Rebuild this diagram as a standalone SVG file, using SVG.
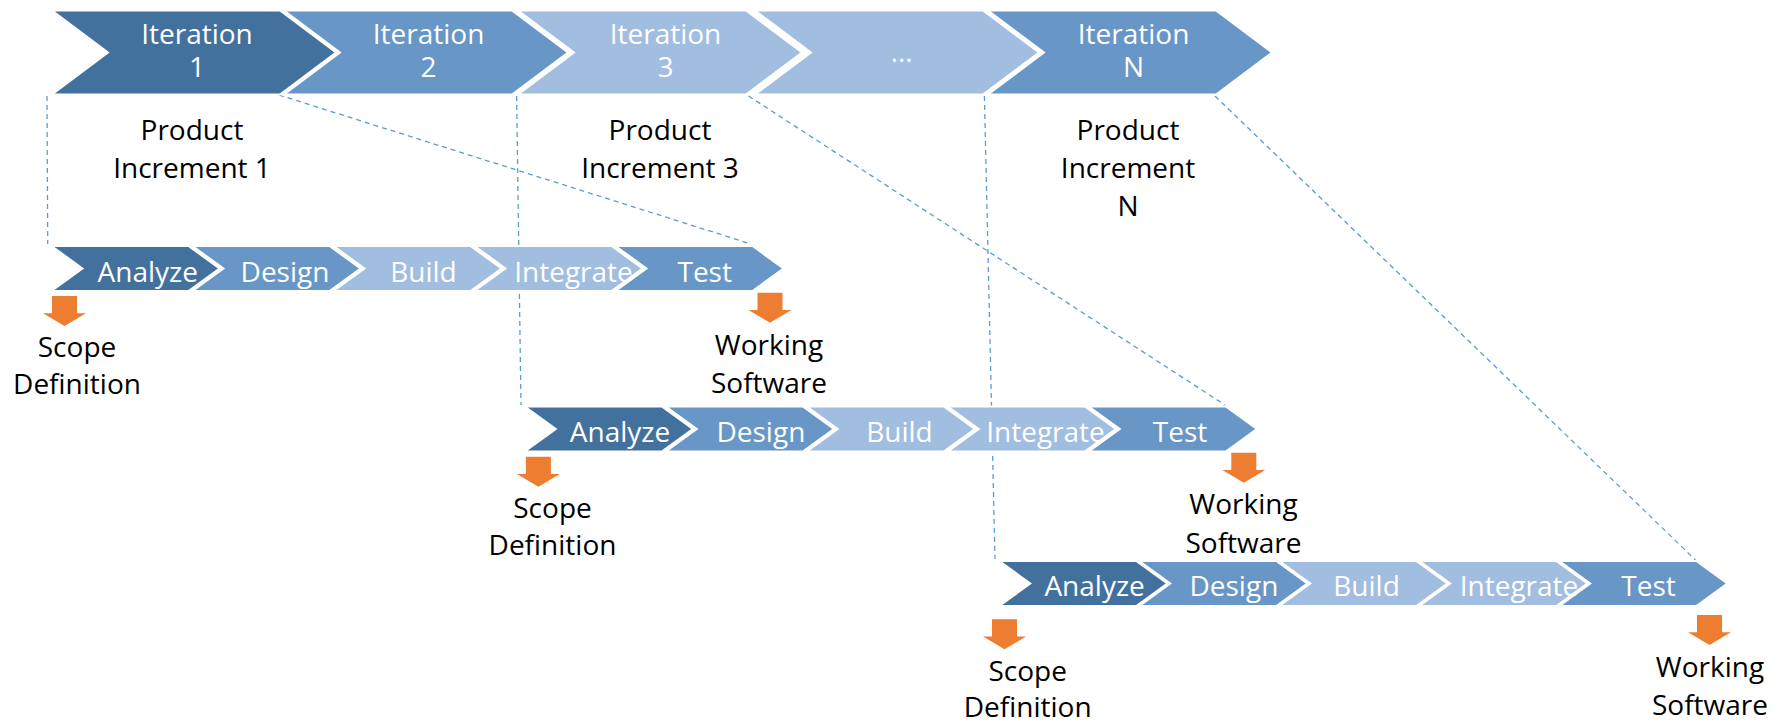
<svg xmlns="http://www.w3.org/2000/svg" width="1782" height="724" viewBox="0 0 1782 724">
<style>
.dk{fill:#42719E;stroke:#fff;stroke-width:2}
.md{fill:#6896C6;stroke:#fff;stroke-width:2}
.lt{fill:#A1BDE0;stroke:#fff;stroke-width:2}
.wt{font-family:"Open Sans","Liberation Sans",sans-serif;font-size:28px;fill:#fff;text-anchor:middle}
.bt{font-family:"Open Sans","Liberation Sans",sans-serif;font-size:28px;fill:#000;text-anchor:middle}
.dash{stroke:#5B9BD5;stroke-width:1.3;stroke-dasharray:5 4;fill:none}
.arr{fill:#ED7D31}
</style>
<defs>
<path id="big" d="M0,10.5 H228 L284,52.5 L228,94.5 H0 L56,52.5 Z"/>
<path id="sm" d="M0,0 H137 L168,22.5 L137,45 H0 L31,22.5 Z"/>
<path id="dn" d="M-12.5,0 H12.5 V17.3 H21.5 L0,30 L-21.5,17.3 H-12.5 Z"/>
</defs>
<rect width="1782" height="724" fill="#fff"/>
<g id="connectors">
<line class="dash" x1="47" y1="96" x2="47.7" y2="244"/>
<line class="dash" x1="279" y1="95" x2="751" y2="244"/>
<line class="dash" x1="516.6" y1="96" x2="521" y2="405"/>
<line class="dash" x1="748.5" y1="96" x2="1225" y2="405"/>
<line class="dash" x1="984.4" y1="96" x2="995" y2="559"/>
<line class="dash" x1="1215" y1="96" x2="1695.5" y2="560"/>
</g>
<g id="iter1"><use href="#big" class="dk" x="52"/><text class="wt" x="197" y="44">Iteration</text><text class="wt" x="197" y="77">1</text></g>
<g id="iter2"><use href="#big" class="md" x="284"/><text class="wt" x="428.6" y="44">Iteration</text><text class="wt" x="428.6" y="77">2</text></g>
<g id="iter3"><use href="#big" class="lt" x="518"/><text class="wt" x="665.5" y="44">Iteration</text><text class="wt" x="665.5" y="77">3</text></g>
<g id="iterdots"><use href="#big" class="lt" x="755"/><text class="wt" x="901.6" y="62">…</text></g>
<g id="iterN"><use href="#big" class="md" x="988"/><text class="wt" x="1133.6" y="44">Iteration</text><text class="wt" x="1133.6" y="77">N</text></g>
<g id="pi1"><text class="bt" x="192" y="140">Product</text><text class="bt" x="192" y="178">Increment 1</text></g>
<g id="pi3"><text class="bt" x="660" y="140">Product</text><text class="bt" x="660" y="178">Increment 3</text></g>
<g id="piN"><text class="bt" x="1128" y="140">Product</text><text class="bt" x="1128" y="178">Increment</text><text class="bt" x="1128" y="216">N</text></g>
<g id="row1">
<use href="#sm" class="dk" x="51.5" y="246"/>
<use href="#sm" class="md" x="192.5" y="246"/>
<use href="#sm" class="lt" x="333.5" y="246"/>
<use href="#sm" class="lt" x="474.5" y="246"/>
<use href="#sm" class="md" x="615.5" y="246"/>
<text class="wt" x="147.7" y="282">Analyze</text>
<text class="wt" x="285" y="282">Design</text>
<text class="wt" x="423.4" y="282">Build</text>
<text class="wt" x="573.5" y="282">Integrate</text>
<text class="wt" x="704.7" y="282">Test</text>
</g>
<g id="row2">
<use href="#sm" class="dk" x="524.8" y="406.5"/>
<use href="#sm" class="md" x="665.8" y="406.5"/>
<use href="#sm" class="lt" x="806.8" y="406.5"/>
<use href="#sm" class="lt" x="947.8" y="406.5"/>
<use href="#sm" class="md" x="1088.8" y="406.5"/>
<text class="wt" x="620" y="442.3">Analyze</text>
<text class="wt" x="760.9" y="442.3">Design</text>
<text class="wt" x="899.4" y="442.3">Build</text>
<text class="wt" x="1045.5" y="442.3">Integrate</text>
<text class="wt" x="1180" y="442.3">Test</text>
</g>
<g id="row3">
<use href="#sm" class="dk" x="999.3" y="561"/>
<use href="#sm" class="md" x="1139.3" y="561"/>
<use href="#sm" class="lt" x="1279.3" y="561"/>
<use href="#sm" class="lt" x="1419.3" y="561"/>
<use href="#sm" class="md" x="1559.3" y="561"/>
<text class="wt" x="1094.6" y="596">Analyze</text>
<text class="wt" x="1233.9" y="596">Design</text>
<text class="wt" x="1366.5" y="596">Build</text>
<text class="wt" x="1519" y="596">Integrate</text>
<text class="wt" x="1648.6" y="596">Test</text>
</g>
<g id="scope1"><use href="#dn" class="arr" x="64.5" y="296"/><text class="bt" x="77" y="356.7">Scope</text><text class="bt" x="77" y="394">Definition</text></g>
<g id="work1"><use href="#dn" class="arr" x="770" y="292.7"/><text class="bt" x="769" y="354.5">Working</text><text class="bt" x="769" y="392.5">Software</text></g>
<g id="scope2"><use href="#dn" class="arr" x="538.4" y="456.7"/><text class="bt" x="552.5" y="517.7">Scope</text><text class="bt" x="552.5" y="555">Definition</text></g>
<g id="work2"><use href="#dn" class="arr" x="1243.8" y="452.7"/><text class="bt" x="1243.5" y="513.5">Working</text><text class="bt" x="1243.5" y="552.5">Software</text></g>
<g id="scope3"><use href="#dn" class="arr" x="1004.5" y="619.3"/><text class="bt" x="1027.7" y="680.7">Scope</text><text class="bt" x="1027.7" y="716.7">Definition</text></g>
<g id="work3"><use href="#dn" class="arr" x="1709.5" y="615"/><text class="bt" x="1710" y="676.7">Working</text><text class="bt" x="1710" y="715">Software</text></g>
</svg>
